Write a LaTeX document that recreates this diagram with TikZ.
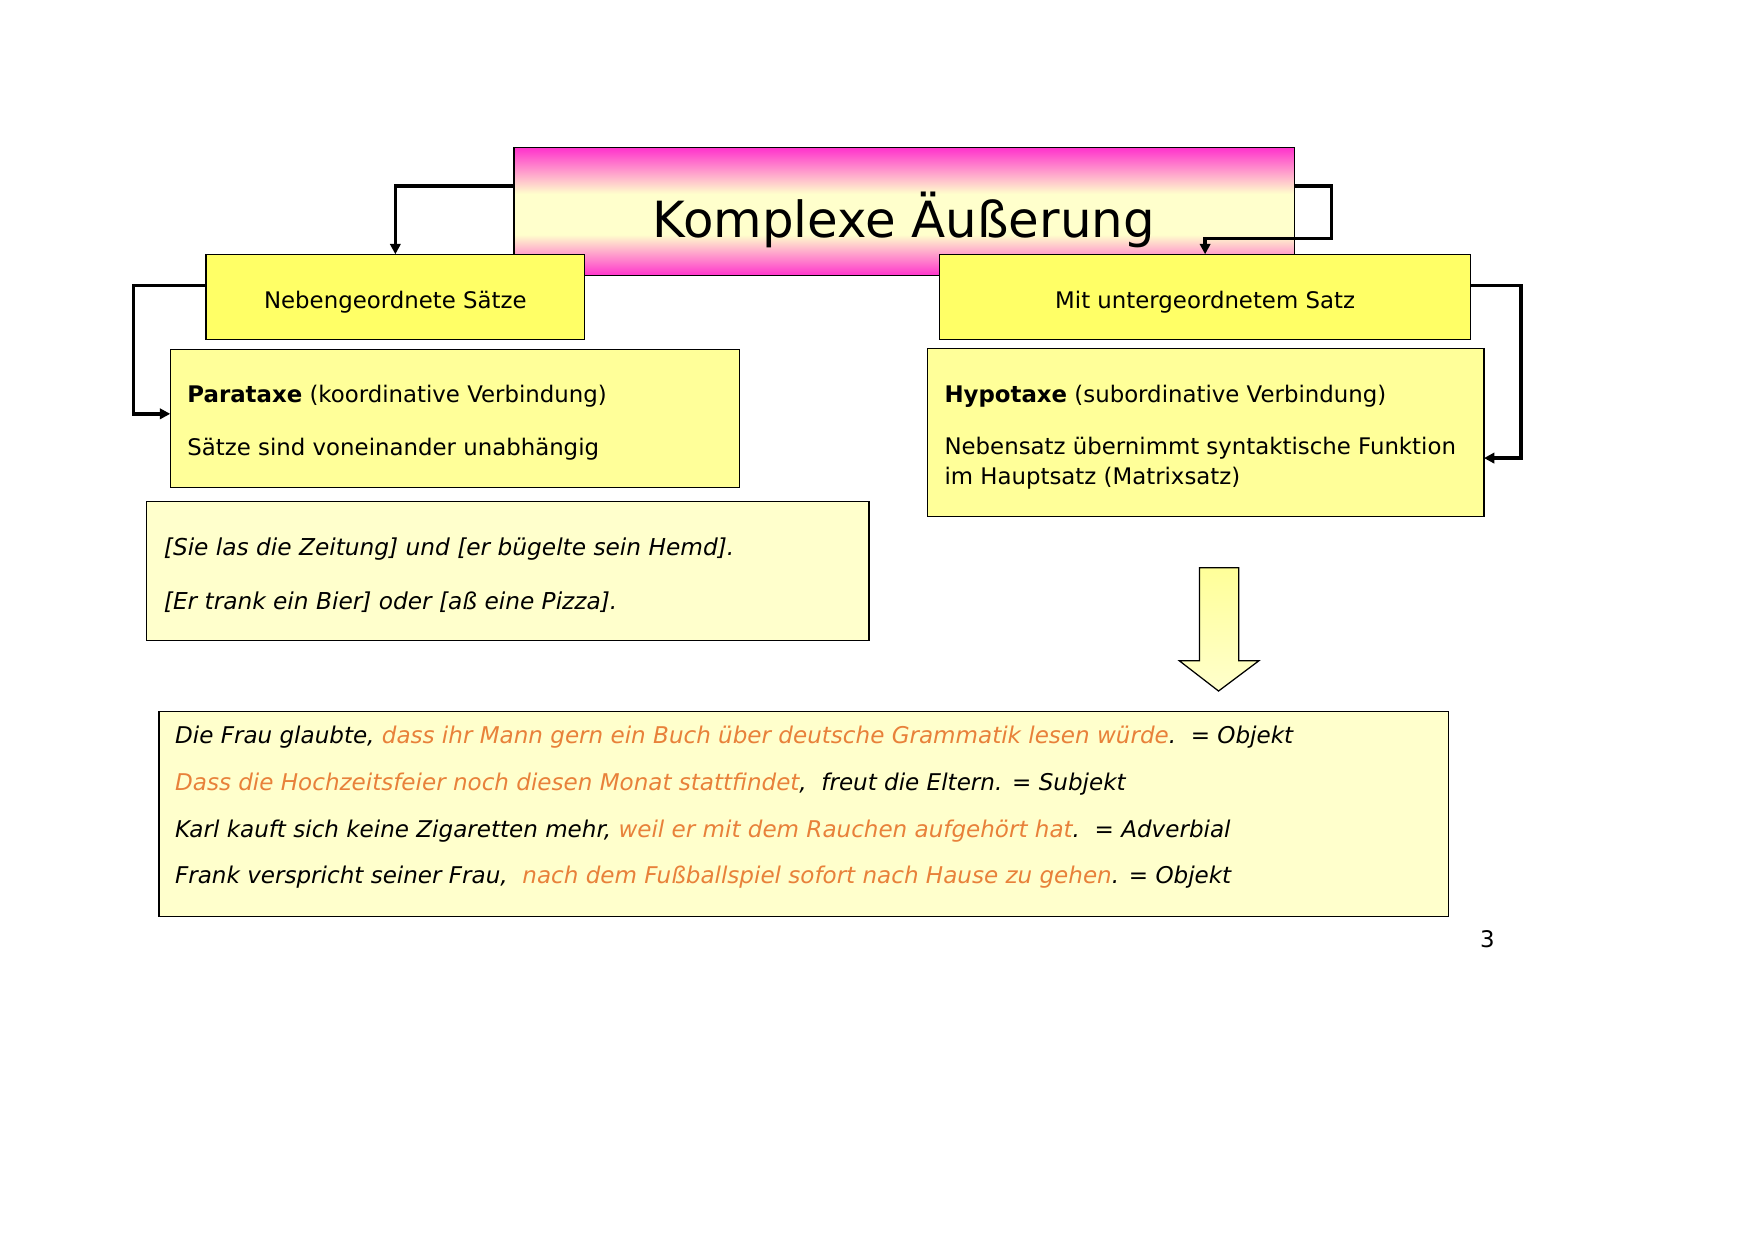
\documentclass[tikz,border=0pt]{standalone}
\usepackage{fontspec}
\setmainfont{DejaVu Sans}
\usetikzlibrary{arrows.meta,calc}
\definecolor{pinkc}{HTML}{FF33CC}
\definecolor{paleyel}{HTML}{FFFFCC}
\definecolor{yelA}{HTML}{FFFF66}
\definecolor{yelB}{HTML}{FFFF99}
\definecolor{yelC}{HTML}{FFFFCC}
\definecolor{orangec}{HTML}{E8813A}
\pgfdeclareverticalshading{pinkshade}{100bp}{color(0bp)=(pinkc); color(25bp)=(pinkc); color(41bp)=(paleyel); color(57bp)=(paleyel); color(75bp)=(pinkc); color(100bp)=(pinkc)}
\newlength\ux
\setlength\ux{0.18953mm}
\newcommand\og[1]{\textcolor{orangec}{#1}}
\begin{document}
\begin{tikzpicture}[x=0.18953mm,y=-0.18953mm,
  box/.style={draw=black, line width=0.6pt, inner sep=0pt, outer sep=0pt},
  conn/.style={draw=black, line width=1.7pt, -{Triangle[length=5pt,width=5pt]}},
  txt/.style={anchor=base west, inner sep=0pt, font=\fontsize{11}{13.5}\selectfont},
  itxt/.style={anchor=base west, inner sep=0pt, font=\fontsize{11.2}{13.5}\selectfont\itshape},
  btxt/.style={anchor=base west, inner sep=0pt, font=\fontsize{11.1}{13.5}\selectfont\itshape},
  ctxt/.style={anchor=base, inner sep=0pt, font=\fontsize{11}{13.5}\selectfont}]
\useasboundingbox (0,0) rectangle (1567,1108);
% boxes
\node[box, shading=pinkshade, minimum width=697\ux, minimum height=114\ux] (pink) at (807.5,189) {};
\node[box, fill=yelA, minimum width=338\ux, minimum height=76\ux] (neb) at (353,265) {};
\node[box, fill=yelA, minimum width=474\ux, minimum height=76\ux] (mit) at (1076,265) {};
\node[box, fill=yelB, minimum width=508\ux, minimum height=123\ux] (para) at (406,373.5) {};
\node[box, fill=yelB, minimum width=497\ux, minimum height=150\ux] (hypo) at (1076.5,386) {};
\node[box, fill=yelC, minimum width=645\ux, minimum height=124\ux] (ex) at (453.5,510) {};
\node[box, fill=yelC, minimum width=1151\ux, minimum height=183\ux] (big) at (717.5,726.5) {};
% block arrow
\shade[top color=yelB, bottom color=yelC, draw=black, line width=0.6pt]
  (1071,507) -- (1106,507) -- (1106,590) -- (1124,590) -- (1088,617) -- (1053,590) -- (1071,590) -- cycle;
% connectors
\draw[conn] ($(pink.north west)+(0,34)$) -| (neb.north);
\draw[conn] ($(pink.north east)+(0,34)$) -- ++(33,0) -- ++(0,47) -| (mit.north);
\draw[conn] ($(neb.north west)+(0,28)$) -- ++(-65,0) |- ($(para.west)+(0,-4)$);
\draw[conn] ($(mit.north east)+(0,28)$) -- ++(45,0) |- ($(hypo.east)+(0,23)$);
% texts
\node[anchor=base, inner sep=0pt, font=\fontsize{24}{29}\selectfont] (title) at (807,212) {Komplexe Äußerung};
\node[ctxt] (nebt) at (353,275) {Nebengeordnete Sätze};
\node[ctxt] (mitt) at (1076,275) {Mit untergeordnetem Satz};
\node[txt] (p1) at (167,359) {\textbf{Parataxe} (koordinative Verbindung)};
\node[txt] (p2) at (167,407) {Sätze sind voneinander unabhängig};
\node[txt] (h1) at (843,359) {\textbf{Hypotaxe} (subordinative Verbindung)};
\node[txt] (h2) at (843,406) {Nebensatz übernimmt syntaktische Funktion};
\node[txt] (h3) at (843,433) {im Hauptsatz (Matrixsatz)};
\node[itxt] (e1) at (146,496) {[Sie las die Zeitung] und [er bügelte sein Hemd].};
\node[itxt] (e2) at (146,544) {[Er trank ein Bier] oder [aß eine Pizza].};
\node[btxt] (b1) at (156,664) {Die Frau glaubte, \og{dass ihr Mann gern ein Buch über deutsche Grammatik lesen würde}.\ \ = Objekt};
\node[btxt] (b2) at (156,706) {\og{Dass die Hochzeitsfeier noch diesen Monat stattfindet},\ \ freut die Eltern. = Subjekt};
\node[btxt] (b3) at (156,748) {Karl kauft sich keine Zigaretten mehr, \og{weil er mit dem Rauchen aufgehört hat}.\ \ = Adverbial};
\node[btxt] (b4) at (156,789) {Frank verspricht seiner Frau,\ \ \og{nach dem Fußballspiel sofort nach Hause zu gehen}. = Objekt};
\node[ctxt] (pg) at (1328,846) {3};
\end{tikzpicture}
\end{document}
